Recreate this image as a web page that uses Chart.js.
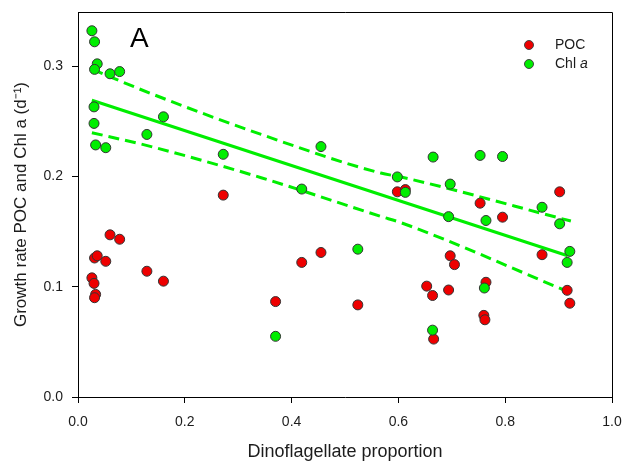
<!DOCTYPE html>
<html>
<head>
<meta charset="utf-8">
<script src="https://cdn.jsdelivr.net/npm/chart.js@4.4.1/dist/chart.umd.min.js"></script>
<style>
  html, body { margin: 0; padding: 0; background: #fff; }
  #wrap { width: 630px; height: 470px; }
</style>
</head>
<body>
<div id="wrap"><canvas id="growth"></canvas></div>
<script>
// growth rate vs dinoflagellate proportion (panel A)
var pocX = [0.031, 0.036, 0.026, 0.030, 0.033, 0.031, 0.052, 0.060, 0.078, 0.129, 0.160,
            0.272, 0.370, 0.419, 0.455, 0.524, 0.598, 0.613, 0.653, 0.664, 0.666, 0.694,
            0.697, 0.705, 0.753, 0.760, 0.762, 0.764, 0.795, 0.869, 0.902, 0.916, 0.921];
var pocY = [0.126, 0.128, 0.108, 0.103, 0.093, 0.090, 0.123, 0.147, 0.143, 0.114, 0.105,
            0.183, 0.0865, 0.122, 0.131, 0.0835, 0.186, 0.188, 0.1005, 0.092, 0.0525, 0.097,
            0.128, 0.120, 0.1757, 0.074, 0.070, 0.104, 0.163, 0.129, 0.186, 0.0967, 0.085];

var chlX = [0.026, 0.031, 0.036, 0.031, 0.060, 0.078, 0.030, 0.030, 0.033, 0.052, 0.129,
            0.160, 0.272, 0.370, 0.419, 0.455, 0.524, 0.598, 0.613, 0.664, 0.665, 0.694,
            0.697, 0.753, 0.761, 0.764, 0.795, 0.869, 0.902, 0.916, 0.921];
var chlY = [0.332, 0.322, 0.302, 0.297, 0.293, 0.295, 0.263, 0.248, 0.2285, 0.226, 0.238,
            0.254, 0.220, 0.055, 0.1885, 0.227, 0.134, 0.1995, 0.1855, 0.0606, 0.2175, 0.1635,
            0.193, 0.219, 0.0988, 0.160, 0.218, 0.172, 0.157, 0.122, 0.132];

// Chl a regression and its 95% confidence band
var fitX = [0.026, 0.917];
var fitY = [0.269, 0.128];
var upperX = [0.027, 0.137, 0.343, 0.567, 0.605, 0.923];
var upperY = [0.297, 0.275, 0.238, 0.203, 0.1994, 0.1595];
var lowerX = [0.026, 0.137, 0.343, 0.567, 0.605, 0.920];
var lowerY = [0.2396, 0.227, 0.1988, 0.1637, 0.158, 0.095];

var xTicks = [0, 0.2, 0.4, 0.6, 0.8, 1.0];
var yTicks = [0, 0.1, 0.2, 0.3];

function pairs(xs, ys) {
  return xs.map(function (x, i) { return { x: x, y: ys[i] }; });
}

var fontFamily = "'Liberation Sans', Arial, sans-serif";
var textColor = "#1c1c1c";
var green = "#00ee00";
var red = "#ee0000";

// frame, panel letter and the small legend in the corner
var decorations = {
  id: "decorations",
  afterDraw: function (chart) {
    var ctx = chart.ctx;
    var a = chart.chartArea;
    ctx.save();
    ctx.strokeStyle = "#000";
    ctx.lineWidth = 1;
    ctx.beginPath();
    ctx.moveTo(a.left, a.top + 0.5);
    ctx.lineTo(a.right + 0.5, a.top + 0.5);
    ctx.lineTo(a.right + 0.5, a.bottom);
    ctx.stroke();

    ctx.fillStyle = "#000";
    ctx.font = "28px " + fontFamily;
    ctx.textBaseline = "middle";
    ctx.fillText("A", 130, 39);

    var items = [
      { color: red, label: "POC", italic: "" },
      { color: green, label: "Chl ", italic: "a" }
    ];
    items.forEach(function (it, i) {
      var y = 45 + i * 19;
      ctx.beginPath();
      ctx.arc(529, y, 4.5, 0, Math.PI * 2);
      ctx.fillStyle = it.color;
      ctx.fill();
      ctx.strokeStyle = "#444";
      ctx.stroke();
      ctx.fillStyle = textColor;
      ctx.font = "14px " + fontFamily;
      ctx.fillText(it.label, 555, y);
      if (it.italic) {
        var w = ctx.measureText(it.label).width;
        ctx.font = "italic 14px " + fontFamily;
        ctx.fillText(it.italic, 555 + w, y);
      }
    });
    ctx.restore();
  }
};

var pointStyle = {
  showLine: false,
  pointRadius: 5,
  pointBorderWidth: 1,
  pointBorderColor: "#333",
  pointHoverRadius: 5
};

var dashed = [11, 6];

var config = {
  type: "scatter",
  data: {
    datasets: [
      Object.assign({
        label: "Chl a",
        data: pairs(chlX, chlY),
        pointBackgroundColor: green,
        order: 1
      }, pointStyle),
      Object.assign({
        label: "POC",
        data: pairs(pocX, pocY),
        pointBackgroundColor: red,
        order: 2
      }, pointStyle),
      {
        label: "fit",
        data: pairs(fitX, fitY),
        showLine: true,
        borderColor: green,
        borderWidth: 3,
        pointRadius: 0,
        order: 3
      },
      {
        label: "upper 95%",
        data: pairs(upperX, upperY),
        showLine: true,
        borderColor: green,
        borderWidth: 3,
        borderDash: dashed,
        cubicInterpolationMode: "monotone",
        pointRadius: 0,
        order: 3
      },
      {
        label: "lower 95%",
        data: pairs(lowerX, lowerY),
        showLine: true,
        borderColor: green,
        borderWidth: 3,
        borderDash: dashed,
        cubicInterpolationMode: "monotone",
        pointRadius: 0,
        order: 3
      }
    ]
  },
  options: {
    responsive: true,
    maintainAspectRatio: false,
    animation: false,
    layout: { padding: { left: 0, right: 18, top: 12, bottom: 0 } },
    plugins: {
      legend: { display: false },
      tooltip: { enabled: false }
    },
    scales: {
      x: {
        type: "linear",
        min: 0,
        max: 1,
        afterBuildTicks: function (s) {
          s.ticks = xTicks.map(function (v) { return { value: v }; });
        },
        afterFit: function (s) {
          s.height = 73;
          s.paddingLeft = 0;
          s.paddingRight = 0;
        },
        grid: { drawOnChartArea: false, drawTicks: true, tickLength: 6, color: "#000" },
        border: { color: "#000", width: 1 },
        ticks: {
          color: textColor,
          padding: 11,
          font: { family: fontFamily, size: 14 },
          callback: function (v) { return Number(v).toFixed(1); }
        },
        title: {
          display: true,
          text: "Dinoflagellate proportion",
          color: textColor,
          font: { family: fontFamily, size: 18 },
          padding: { top: 7, bottom: 7 }
        }
      },
      y: {
        type: "linear",
        min: 0,
        max: 0.349,
        afterBuildTicks: function (s) {
          s.ticks = yTicks.map(function (v) { return { value: v }; });
        },
        afterFit: function (s) {
          s.width = 78;
          s.paddingTop = 0;
          s.paddingBottom = 0;
        },
        grid: { drawOnChartArea: false, drawTicks: true, tickLength: 6, color: "#000" },
        border: { color: "#000", width: 1 },
        ticks: {
          color: textColor,
          padding: 9,
          font: { family: fontFamily, size: 14 },
          callback: function (v) { return Number(v).toFixed(1); }
        },
        title: {
          display: true,
          text: "Growth rate POC and Chl a (d\u207B\u00B9)",
          color: textColor,
          font: { family: fontFamily, size: 17 },
          padding: { top: 11, bottom: 11 }
        }
      }
    }
  },
  plugins: [decorations]
};

var growthChart = new Chart(document.getElementById("growth").getContext("2d"), config);
</script>
</body>
</html>
